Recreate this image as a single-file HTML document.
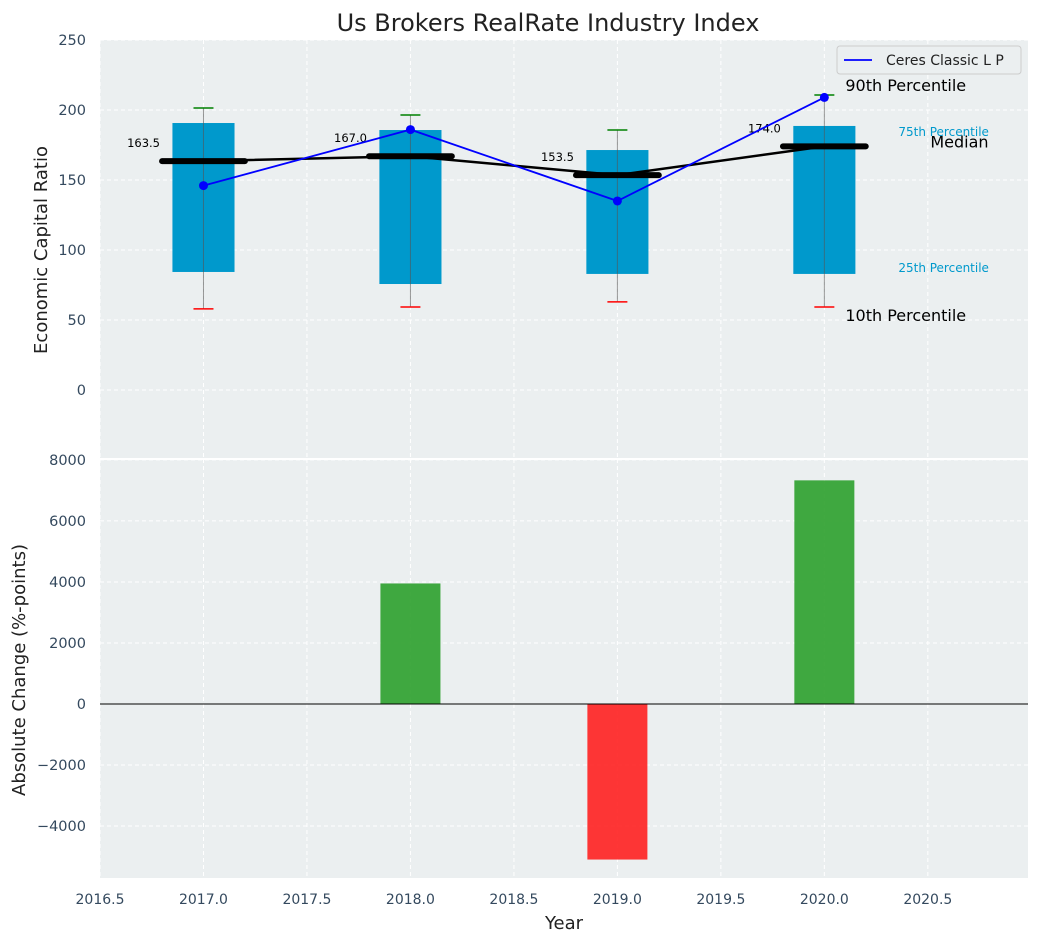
<!DOCTYPE html>
<html><head><meta charset="utf-8"><style>
body{margin:0;background:#fff;font-family:"Liberation Sans","DejaVu Sans",sans-serif}
svg text{font-family:"DejaVu Sans","Liberation Sans",sans-serif}
</style></head><body>
<svg id="c" width="1039" height="942" xmlns="http://www.w3.org/2000/svg"></svg>
<script>
const years=[2017,2018,2019,2020];
const p10=[57.9,59.3,62.9,59.3];
const p25=[84.3,75.7,82.9,82.9];
const medians=[163.5,167.0,153.5,174.0];
const p75=[190.7,185.7,171.4,188.6];
const p90=[201.4,196.4,185.7,210.7];
const company=[146,186,135,209];
const changes=[0,3950,-5100,7330];
const xTicks=[2016.5,2017,2017.5,2018,2018.5,2019,2019.5,2020,2020.5];
const yTopTicks=[0,50,100,150,200,250];
const yBotTicks=[-4000,-2000,0,2000,4000,6000,8000];

const NS="http://www.w3.org/2000/svg";
const svg=document.getElementById('c');
function el(t,a,txt){const e=document.createElementNS(NS,t);for(const k in a)e.setAttribute(k,a[k]);if(txt!==undefined)e.textContent=txt;svg.appendChild(e);return e;}
const L=100,R=1028,T1=40,B1=459,T2=459,B2=878;
const x=v=>L+(v-2016.5)/(2020.984-2016.5)*(R-L);
const yT=v=>T1+(250-v)/(250+49.3)*(B1-T1);
const yB=v=>T2+(8030-v)/(8030+5705)*(B2-T2);

let e;
e=el('rect',{x:L,y:T1,width:R-L,height:B1-T1,fill:'#ebeff0'});

e=el('rect',{x:L,y:T2,width:R-L,height:B2-T2,fill:'#ebeff0'});

el('line',{x1:L,x2:R,y1:459,y2:459,stroke:'#fff','stroke-width':2});
xTicks.forEach(t=>{[[T1,B1],[T2,B2]].forEach(([a,b])=>el('line',{x1:x(t),x2:x(t),y1:a,y2:b,stroke:'#fff','stroke-dasharray':'4,3','stroke-width':1}));
 e=el('text',{x:x(t),y:904,'text-anchor':'middle','font-size':14,fill:'#34495e'},t.toFixed(1));
 });
yTopTicks.forEach(t=>{el('line',{x1:L,x2:R,y1:yT(t),y2:yT(t),stroke:'#fff','stroke-dasharray':'4,3'});
 e=el('text',{x:L-14,y:yT(t)+5,'text-anchor':'end','font-size':14.5,fill:'#34495e'},t);
 });
yBotTicks.forEach(t=>{el('line',{x1:L,x2:R,y1:yB(t),y2:yB(t),stroke:'#fff','stroke-dasharray':'4,3'});
 e=el('text',{x:L-14,y:yB(t)+5,'text-anchor':'end','font-size':14.5,fill:'#34495e'},(t<0?'\u2212'+(-t):t));
 });
years.forEach((yr,i)=>{
 e=el('rect',{x:x(yr-0.15),y:yT(p75[i]),width:x(yr+0.15)-x(yr-0.15),height:yT(p25[i])-yT(p75[i]),fill:'#0099cc'});
 
 el('line',{x1:x(yr),x2:x(yr),y1:yT(p90[i]),y2:yT(p10[i]),stroke:'#555','stroke-width':1,opacity:0.6});
 el('line',{x1:x(yr)-10,x2:x(yr)+10,y1:yT(p10[i]),y2:yT(p10[i]),stroke:'red','stroke-width':1.5});
 el('line',{x1:x(yr)-10,x2:x(yr)+10,y1:yT(p90[i]),y2:yT(p90[i]),stroke:'green','stroke-width':1.5});
});
let d=years.map((yr,i)=>(i?'L':'M')+x(yr)+','+yT(medians[i])).join(' ');
e=el('path',{d:d,stroke:'#000','stroke-width':2.5,fill:'none'});

years.forEach((yr,i)=>{
 e=el('line',{x1:x(yr-0.2),x2:x(yr+0.2),y1:yT(medians[i]),y2:yT(medians[i]),stroke:'#000','stroke-width':6,'stroke-linecap':'round'});
 
 e=el('text',{x:x(yr-0.21),y:yT(medians[i])-14,'text-anchor':'end','font-size':11.5,fill:'#000'},medians[i].toFixed(1));
 
});
d=years.map((yr,i)=>(i?'L':'M')+x(yr)+','+yT(company[i])).join(' ');
e=el('path',{d:d,stroke:'blue','stroke-width':1.8,fill:'none'});

years.forEach((yr,i)=>{e=el('circle',{cx:x(yr),cy:yT(company[i]),r:4.5,fill:'blue'});
 });
const li=years.length-1,lx=x(years[li]);
[['90th Percentile',lx+21,yT(p90[li])-4,16,'#000'],['75th Percentile',lx+74,yT(p75[li])+10,12,'#0099cc'],['Median',lx+106,yT(medians[li])+1,16,'#000'],['25th Percentile',lx+74,yT(p25[li])-2,12,'#0099cc'],['10th Percentile',lx+21,yT(p10[li])+14,16,'#000']].forEach(a=>{
 e=el('text',{x:a[1],y:a[2],'font-size':a[3],fill:a[4]},a[0]);
 });
e=el('rect',{x:837,y:46,width:184,height:28,fill:'#ebeff0',stroke:'#ccc',rx:3});

el('line',{x1:844,x2:872,y1:60,y2:60,stroke:'blue','stroke-width':1.8});
e=el('text',{x:886,y:65,'font-size':14,fill:'#222'},'Ceres Classic L P');

years.forEach((yr,i)=>{const v=changes[i];if(!v)return;
 e=el('rect',{x:x(yr-0.145),y:Math.min(yB(v),yB(0)),width:x(yr+0.145)-x(yr-0.145),height:Math.abs(yB(v)-yB(0)),fill:v>0?'#2ca02c':'#ff2020',opacity:0.9});
 });
el('line',{x1:L,x2:R,y1:yB(0),y2:yB(0),stroke:'#000','stroke-width':1});
e=el('text',{x:548,y:31,'text-anchor':'middle','font-size':24,fill:'#222'},'Us Brokers RealRate Industry Index');

e=el('text',{x:564,y:929,'text-anchor':'middle','font-size':18,fill:'#222'},'Year');

e=el('text',{x:47,y:250,'text-anchor':'middle','font-size':18,fill:'#222',transform:'rotate(-90 47 250)'},'Economic Capital Ratio');

e=el('text',{x:25,y:670,'text-anchor':'middle','font-size':18,fill:'#222',transform:'rotate(-90 25 670)'},'Absolute Change (%-points)');

</script>
</body></html>
